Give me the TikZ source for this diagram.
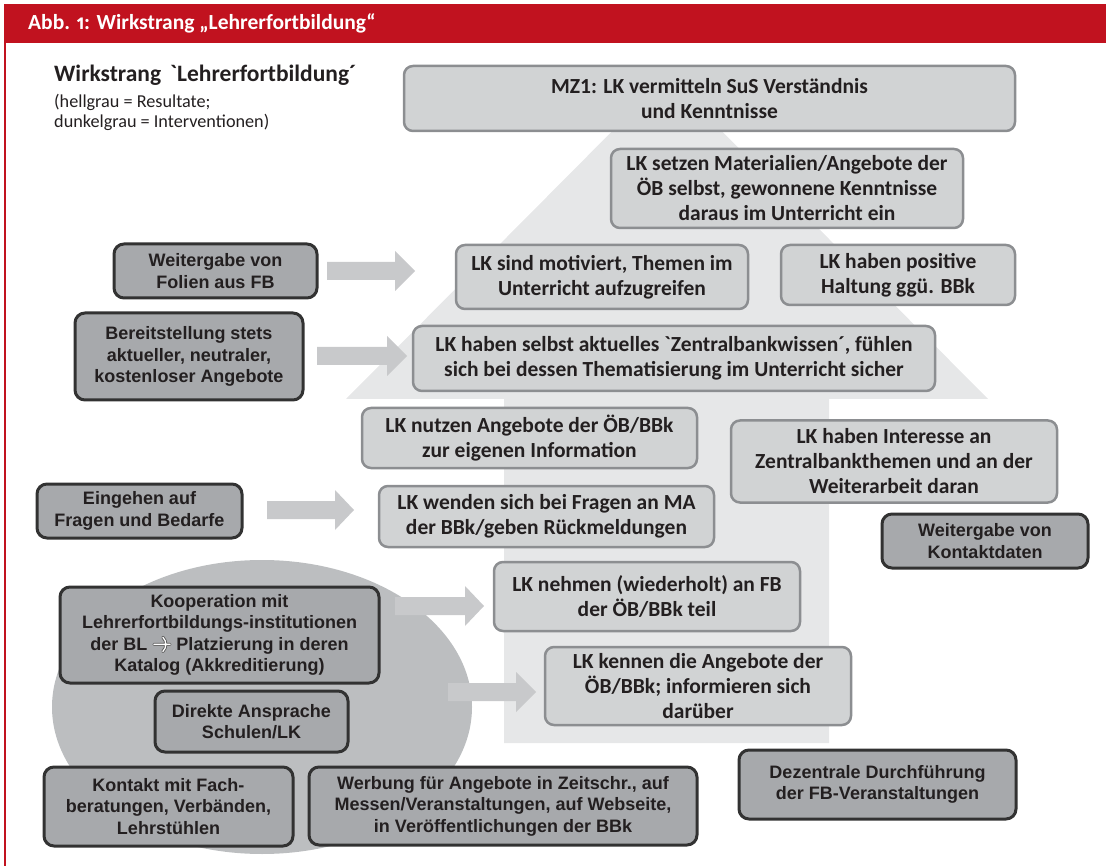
\documentclass[tikz,border=0pt]{standalone}
\usepackage{fontspec}
\newfontfamily\calf{Carlito}
\newfontfamily\hdf{Carlito}[Numbers={OldStyle,Proportional}]
\newfontfamily\arf{Liberation Sans}
\definecolor{hdred}{RGB}{193,18,31}
\definecolor{bgarrow}{RGB}{230,231,232}
\definecolor{lfill}{RGB}{209,211,212}
\definecolor{ldraw}{RGB}{140,142,145}
\definecolor{dfill}{RGB}{167,169,172}
\definecolor{ddraw}{RGB}{50,50,50}
\definecolor{ellfill}{RGB}{188,190,192}
\definecolor{sarrow}{RGB}{200,201,203}
\definecolor{txt}{RGB}{35,31,32}
\tikzset{
  resbox/.style={draw=ldraw, fill=lfill, line width=2.5pt, rounded corners=9pt,
    align=center, text=txt, inner sep=0pt,
    font=\calf\bfseries\fontsize{21.5}{25}\selectfont},
  intbox/.style={draw=ddraw, fill=dfill, line width=3pt, rounded corners=10pt,
    align=center, text=txt, inner sep=0pt,
    font=\arf\bfseries\fontsize{18}{21.5}\selectfont},
  sz/.style 2 args={minimum width=#1pt, minimum height=#2pt},
}
\newcommand\blkarr[4]{%
  \fill[sarrow] ({#1},{#4-9}) -- ({#2},{#4-9}) -- ({#2},{#4-20}) -- ({#3},{#4})
    -- ({#2},{#4+20}) -- ({#2},{#4+9}) -- ({#1},{#4+9}) -- cycle;}
\newcommand\openarrow{\tikz[x=1pt,y=1pt,baseline=-6pt]{%
  \draw[line width=3pt, color=black!65, line cap=round, line join=round]
    (0,0) -- (16,0) (9,-7) -- (16,0) -- (9,7);
  \draw[line width=1.3pt, color=white, line cap=round, line join=round]
    (0,0) -- (16,0) (9,-7) -- (16,0) -- (9,7);}}
\begin{document}
\begin{tikzpicture}[x=1pt,y=-1pt]
\useasboundingbox (0,0) rectangle (1106,866);
% header
\fill[hdred] (4,4) rectangle (1106,43);
\draw[hdred, line width=2pt] (5,43) -- (5,866);
\node[anchor=base west, text=white, inner sep=0pt,
  font=\hdf\bfseries\fontsize{21.5}{25}\selectfont] (hd) at (28,30)
  {Abb. 1: Wirkstrang „Lehrerfortbildung“};
% title and legend
\node[anchor=base west, text=txt, inner sep=0pt,
  font=\calf\bfseries\fontsize{23.5}{27}\selectfont] (title) at (54,82)
  {Wirkstrang\hspace{9pt}\char"0060Lehrerfortbildung´};
\node[anchor=base west, text=txt, inner sep=0pt,
  font=\calf\fontsize{18.2}{20}\selectfont] (leg1) at (54,108)
  {(hellgrau = Resultate;};
\node[anchor=base west, text=txt, inner sep=0pt,
  font=\calf\fontsize{18.2}{20}\selectfont] (leg2) at (54,128)
  {dunkelgrau = Interventionen)};
% big background arrow
\fill[bgarrow] (504,743) -- (504,399) -- (346,399) -- (667,76) -- (988,399)
  -- (829,399) -- (829,743) -- cycle;
% ellipse
\fill[ellfill] (262,707) ellipse [x radius=210pt, y radius=147pt];
% small block arrows
\blkarr{327}{395}{415}{271}
\blkarr{317}{387}{407}{356}
\blkarr{267}{335}{354}{510}
\blkarr{395}{465}{484}{606}
\blkarr{448}{516}{536}{692}
% result boxes
\node[resbox, sz={611}{65}] (mz1) at (709.5,98.5)
  {MZ1: LK vermitteln SuS Verständnis\\und Kenntnisse};
\node[resbox, sz={352}{79}] (setzen) at (787,188.5)
  {LK setzen Materialien/Angebote der\\ÖB selbst, gewonnene Kenntnisse\\daraus im Unterricht ein};
\node[resbox, sz={292}{64}] (motiv) at (602,277)
  {LK sind motiviert, Themen im\\Unterricht aufzugreifen};
\node[resbox, sz={234}{60}] (posit) at (898,275)
  {LK haben positive\\Haltung ggü. BBk};
\node[resbox, sz={522}{65}] (selbst) at (674,358.5)
  {LK haben selbst aktuelles \char"0060Zentralbankwissen´, fühlen\\sich bei dessen Thematisierung im Unterricht sicher};
\node[resbox, sz={335}{60}] (nutzen) at (529.5,438)
  {LK nutzen Angebote der ÖB/BBk\\zur eigenen Information};
\node[resbox, sz={326}{82}] (interesse) at (894,461.5)
  {LK haben Interesse an\\Zentralbankthemen und an der\\Weiterarbeit daran};
\node[resbox, sz={335}{61}] (wenden) at (546.5,516.5)
  {LK wenden sich bei Fragen an MA\\der BBk/geben Rückmeldungen};
\node[resbox, sz={306}{69}] (nehmen) at (647,596.5)
  {LK nehmen (wiederholt) an FB\\der ÖB/BBk teil};
\node[resbox, sz={306}{78}] (kennen) at (698,686)
  {LK kennen die Angebote der\\ÖB/BBk; informieren sich\\darüber};
% intervention boxes
\node[intbox, sz={203}{54}] (folien) at (215.5,271)
  {Weitergabe von\\Folien aus FB};
\node[intbox, sz={228}{87}] (bereit) at (189,356.5)
  {Bereitstellung stets\\aktueller, neutraler,\\kostenloser Angebote};
\node[intbox, sz={205}{54}] (eingehen) at (139.5,511)
  {Eingehen auf\\Fragen und Bedarfe};
\node[intbox, sz={206}{54}] (kdaten) at (985,541)
  {Weitergabe von\\Kontaktdaten};
\node[intbox, sz={319}{96}] (koop) at (219.5,635)
  {Kooperation mit\\Lehrerfortbildungs-institutionen\\der BL \openarrow{} Platzierung in deren\\Katalog (Akkreditierung)};
\node[intbox, sz={193}{61}] (direkt) at (251.5,721.5)
  {Direkte Ansprache\\Schulen/LK};
\node[intbox, sz={249}{79}] (kfach) at (168.5,806.5)
  {Kontakt mit Fach-\\beratungen, Verbänden,\\Lehrstühlen};
\node[intbox, sz={388}{78}] (werbung) at (503,806)
  {Werbung für Angebote in Zeitschr., auf\\Messen/Veranstaltungen, auf Webseite,\\in Veröffentlichungen der BBk};
\node[intbox, sz={277}{69}] (dezentral) at (877.5,784.5)
  {Dezentrale Durchführung\\der FB-Veranstaltungen};
\end{tikzpicture}
\end{document}
